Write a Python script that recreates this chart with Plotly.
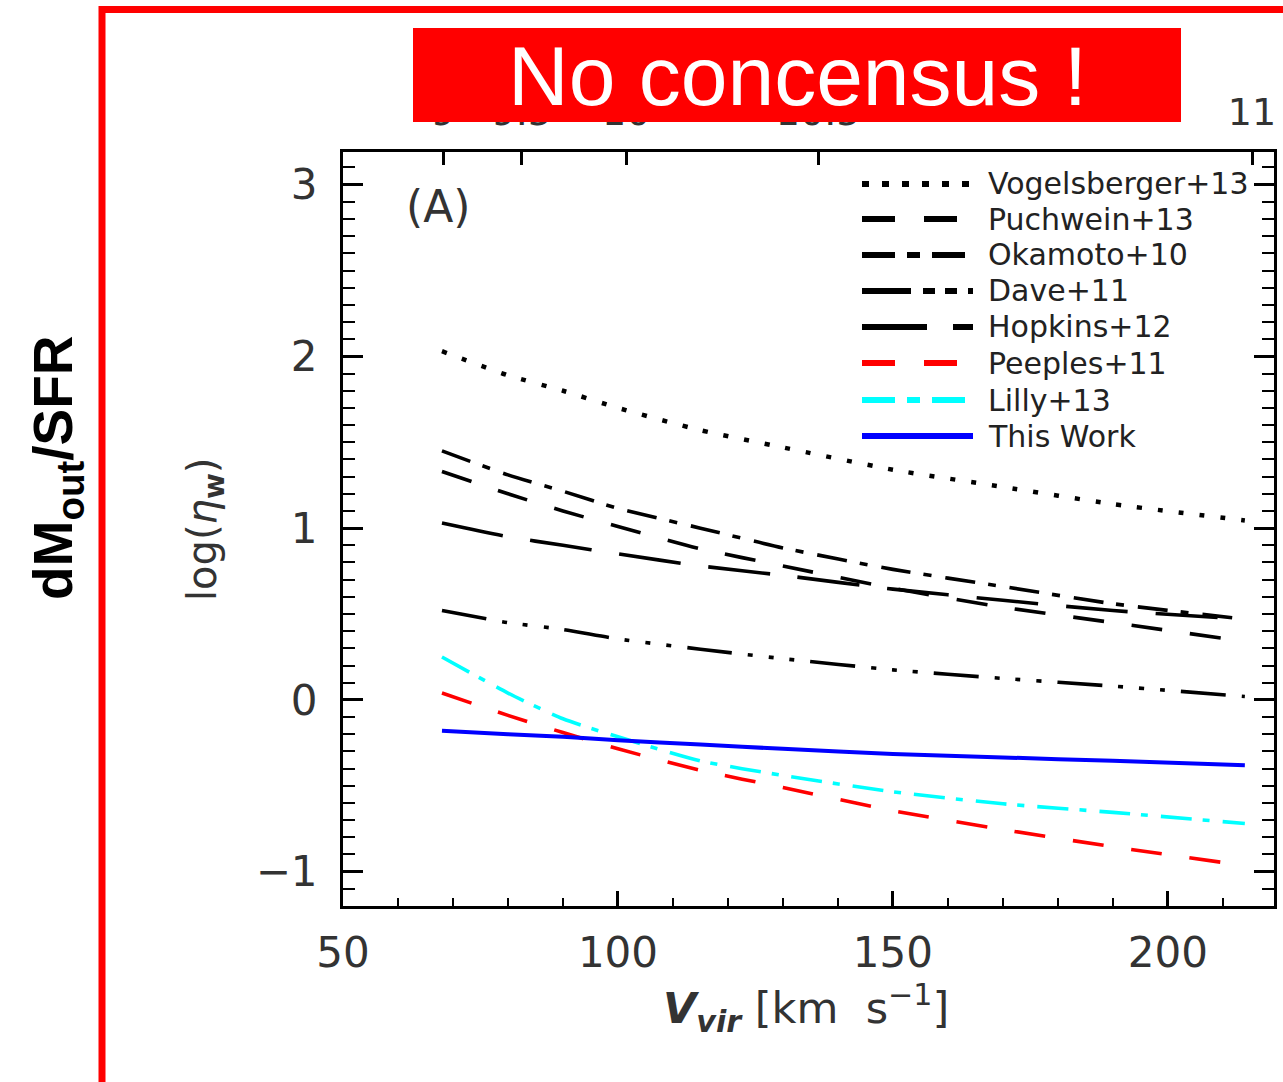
import plotly.graph_objects as go

# ---------------- data ----------------
v_vir = [68, 80, 90, 100, 115, 130, 150, 170, 190, 214]
vogelsberger13 = [2.03, 1.89, 1.80, 1.70, 1.57, 1.47, 1.34, 1.24, 1.14, 1.045]
puchwein13 = [1.33, 1.20, 1.10, 1.01, 0.88, 0.78, 0.65, 0.54, 0.45, 0.34]
okamoto10 = [1.45, 1.31, 1.215, 1.115, 1.0, 0.885, 0.76, 0.66, 0.56, 0.47]
dave11 = [0.52, 0.45, 0.41, 0.355, 0.295, 0.24, 0.175, 0.125, 0.08, 0.02]
hopkins12 = [1.03, 0.95, 0.90, 0.85, 0.78, 0.725, 0.645, 0.58, 0.52, 0.47]
peeples11 = [0.04, -0.09, -0.19, -0.285, -0.41, -0.51, -0.645, -0.755, -0.855, -0.965]
lilly13 = [0.25, 0.04, -0.11, -0.215, -0.355, -0.44, -0.535, -0.605, -0.655, -0.72]
this_work = [-0.18, -0.20, -0.215, -0.235, -0.26, -0.285, -0.315, -0.335, -0.355, -0.38]

series_names = ["Vogelsberger+13", "Puchwein+13", "Okamoto+10", "Dave+11",
                "Hopkins+12", "Peeples+11", "Lilly+13", "This Work"]
series_values = [vogelsberger13, puchwein13, okamoto10, dave11,
                 hopkins12, peeples11, lilly13, this_work]

x_tick_vals = [50, 100, 150, 200]
y_tick_vals = [-1, 0, 1, 2, 3]
top_tick_vals = [68.2, 82.5, 101.5, 136.4, 215.3]
top_tick_text = ["9", "9.5", "10", "10.5", "11"]

# ---------------- styles ----------------
W, H = 1283, 1082
def px(x):
    return x / W
def py(y):
    return 1 - y / H

colors = ["black", "black", "black", "black", "black", "#ff0000", "#00ffff", "#0000ff"]
plot_dash = ["5px,16px", "31px,28px", "30px,13px,8px,14px",
             "45px,16px,5px,16px,5px,16px,5px,16px", "62px,28px",
             "31px,28px", "31px,11px,7px,13px", "solid"]
legend_dash = ["7px,13px", "33px,29px", "33px,12px,13px,12px",
               "49px,12px,12px,10px,12px,11px,12px,11px", "65px,26px,20px,20px",
               "33px,29px", "33px,12px,13px,12px", "solid"]
legend_rows = [184, 219, 255, 291, 327, 363, 400, 436]

fig = go.Figure()
for i, (name, ys, c, d) in enumerate(zip(series_names, series_values, colors, plot_dash)):
    w = 4.5 if i == 0 else (4 if c == "#0000ff" else 3.6)
    fig.add_trace(go.Scatter(
        x=v_vir, y=ys, mode="lines", name=name, showlegend=False,
        hoverinfo="skip",
        line=dict(color=c, width=w, dash=d, shape="spline", smoothing=0.6)))

# invisible trace to activate the top axis
fig.add_trace(go.Scatter(x=[v_vir[0]], y=[vogelsberger13[0]], xaxis="x2", yaxis="y",
                         mode="markers", opacity=0, showlegend=False, hoverinfo="skip"))

tick_font = dict(family="DejaVu Sans", size=42, color="#333")
x_range = [50, 219.3]

fig.update_layout(
    template="none",
    width=W, height=H, margin=dict(l=0, r=0, t=0, b=0, pad=0, autoexpand=False),
    paper_bgcolor="white", plot_bgcolor="white",
    showlegend=False,
    xaxis=dict(domain=[px(343), px(1274)], range=x_range, tickvals=x_tick_vals,
               automargin=False,
               ticks="inside", ticklen=15, tickwidth=3, tickcolor="black",
               showline=True, linewidth=3, linecolor="black", mirror=True,
               showgrid=False, zeroline=False, tickfont=tick_font,
               ticklabelstandoff=8,
               minor=dict(dtick=10, tick0=50, ticks="inside", ticklen=8,
                          tickwidth=2, tickcolor="black", showgrid=False)),
    xaxis2=dict(overlaying="x", side="top", anchor="y", range=x_range,
                domain=[px(343), px(1274)], automargin=False,
                tickvals=top_tick_vals, ticktext=top_tick_text,
                ticks="inside", ticklen=13, tickwidth=3, tickcolor="black",
                showline=False, showgrid=False, zeroline=False,
                tickfont=dict(family="DejaVu Sans", size=38, color="#333"),
                ticklabelstandoff=18),
    yaxis=dict(domain=[py(906), py(152)], range=[-1.2, 3.19], tickvals=y_tick_vals,
               automargin=False,
               ticks="inside", ticklen=20, tickwidth=3, tickcolor="black",
               showline=True, linewidth=3, linecolor="black", mirror="ticks",
               showgrid=False, zeroline=False, tickfont=tick_font,
               ticklabelstandoff=14,
               minor=dict(dtick=0.1, tick0=0, ticks="inside", ticklen=12,
                          tickwidth=2, tickcolor="black", showgrid=False)),
)

shapes = []
# red slide frame
shapes.append(dict(type="path", xref="paper", yref="paper",
                   path=f"M {px(102)},{py(1100)} L {px(102)},{py(9.5)} L {px(1300)},{py(9.5)}",
                   line=dict(color="#ff0000", width=7), layer="above"))
# title box
shapes.append(dict(type="rect", xref="paper", yref="paper",
                   x0=px(413), x1=px(1181), y0=py(122), y1=py(28),
                   fillcolor="#ff0000", line=dict(width=0), layer="above"))
# legend samples
for c, d, yr in zip(colors, legend_dash, legend_rows):
    shapes.append(dict(type="line", xref="paper", yref="paper",
                       x0=px(862), x1=px(973), y0=py(yr), y1=py(yr),
                       line=dict(color=c, width=6, dash=d), layer="above"))
fig.update_layout(shapes=shapes)

ann = []
ann.append(dict(text="No concensus !", x=px(797), y=py(76), xref="paper", yref="paper",
                showarrow=False, xanchor="center", yanchor="middle",
                font=dict(family="Liberation Sans", size=84, color="white")))
ann.append(dict(text="<b>dM<sub>out</sub>/SFR</b>", x=px(57), y=py(468),
                xref="paper", yref="paper", showarrow=False, textangle=-90,
                xanchor="center", yanchor="middle",
                font=dict(family="Liberation Sans", size=55, color="black")))
ann.append(dict(text="<b><i>V</i></b><sub><b><i>vir</i></b></sub> [km  s<sup>−1</sup>]",
                x=px(806), y=py(1008), xref="paper", yref="paper", showarrow=False,
                xanchor="center", yanchor="middle",
                font=dict(family="DejaVu Sans", size=43, color="#333")))
ann.append(dict(text="log(<i>η</i><sub><b>w</b></sub>)", x=px(205), y=py(530),
                xref="paper", yref="paper", showarrow=False, textangle=-90,
                xanchor="center", yanchor="middle",
                font=dict(family="DejaVu Sans", size=40, color="#333")))
ann.append(dict(text="(A)", x=px(438), y=py(207), xref="paper", yref="paper",
                showarrow=False, xanchor="center", yanchor="middle",
                font=dict(family="DejaVu Sans", size=44, color="#333")))
for name, yr in zip(series_names, legend_rows):
    ann.append(dict(text=name, x=px(986), y=py(yr), xref="paper", yref="paper",
                    showarrow=False, xanchor="left", yanchor="middle",
                    font=dict(family="DejaVu Sans", size=30, color="#222")))
fig.update_layout(annotations=ann)

fig.write_html("out.html")
